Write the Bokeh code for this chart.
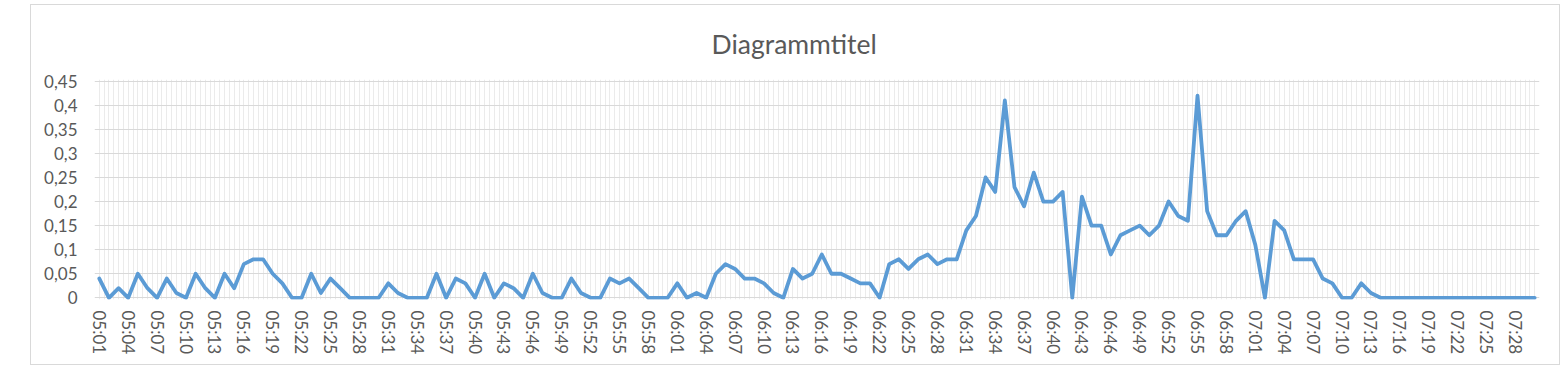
import numpy as np
from bokeh.plotting import figure
from bokeh.models import Range1d, FixedTicker
from bokeh.embed import file_html
from bokeh.resources import INLINE

# ---- data ----
start_h, start_m = 5, 1
n_points = 150
times = []
for k in range(n_points):
    t = start_h * 60 + start_m + k
    times.append(f"{t // 60:02d}:{t % 60:02d}")

values = [
    0.04, 0, 0.02, 0, 0.05, 0.02, 0, 0.04, 0.01, 0,        # 05:01-05:10
    0.05, 0.02, 0, 0.05, 0.02, 0.07, 0.08, 0.08, 0.05, 0.03,  # 05:11-05:20
    0, 0, 0.05, 0.01, 0.04, 0.02, 0, 0, 0, 0,              # 05:21-05:30
    0.03, 0.01, 0, 0, 0, 0.05, 0, 0.04, 0.03, 0,           # 05:31-05:40
    0.05, 0, 0.03, 0.02, 0, 0.05, 0.01, 0, 0, 0.04,        # 05:41-05:50
    0.01, 0, 0, 0.04, 0.03, 0.04, 0.02, 0, 0, 0,           # 05:51-06:00
    0.03, 0, 0.01, 0, 0.05, 0.07, 0.06, 0.04, 0.04, 0.03,  # 06:01-06:10
    0.01, 0, 0.06, 0.04, 0.05, 0.09, 0.05, 0.05, 0.04, 0.03,  # 06:11-06:20
    0.03, 0, 0.07, 0.08, 0.06, 0.08, 0.09, 0.07, 0.08, 0.08,  # 06:21-06:30
    0.14, 0.17, 0.25, 0.22, 0.41, 0.23, 0.19, 0.26, 0.20, 0.20,  # 06:31-06:40
    0.22, 0, 0.21, 0.15, 0.15, 0.09, 0.13, 0.14, 0.15, 0.13,  # 06:41-06:50
    0.15, 0.20, 0.17, 0.16, 0.42, 0.18, 0.13, 0.13, 0.16, 0.18,  # 06:51-07:00
    0.11, 0, 0.16, 0.14, 0.08, 0.08, 0.08, 0.04, 0.03, 0,  # 07:01-07:10
    0, 0.03, 0.01, 0, 0, 0, 0, 0, 0, 0,                    # 07:11-07:20
    0, 0, 0, 0, 0, 0, 0, 0, 0, 0,                          # 07:21-07:30
]

y_ticks = [0, 0.05, 0.1, 0.15, 0.2, 0.25, 0.3, 0.35, 0.4, 0.45]
y_labels = ["0", "0,05", "0,1", "0,15", "0,2", "0,25", "0,3", "0,35", "0,4", "0,45"]
label_step = 3
title_text = "Diagrammtitel"

# ---- figure ----
W, H = 1530, 361
FONT = "Lato"
TXT = "#595959"
GRID = "#d9d9d9"

x = list(range(len(values)))

p = figure(width=W, height=H, output_backend="svg", toolbar_location=None,
           x_range=Range1d(-0.5, len(values) - 0.5),
           y_range=Range1d(-0.0035, 0.4535),
           min_border_left=63, min_border_right=22,
           min_border_top=74, min_border_bottom=67,
           title=title_text)
p.styles = {"margin-left": "30px", "margin-top": "4px",
            "border": "1px solid #d9d9d9"}
p.outline_line_color = None
p.background_fill_color = "white"
p.border_fill_color = "white"

p.title.text_font = FONT
p.title.text_font_size = "26.5px"
p.title.text_font_style = "normal"
p.title.text_color = TXT
p.title.align = "left"
p.title.offset = 617
p.title.standoff = 40

# grids
p.ygrid.ticker = FixedTicker(ticks=y_ticks)
p.ygrid.grid_line_color = GRID
p.ygrid.grid_line_width = 1
p.xgrid.ticker = FixedTicker(ticks=list(np.arange(-0.5, len(values), 0.5)))
p.xgrid.grid_line_color = "#ebebeb"
p.xgrid.grid_line_width = 1

# y axis
p.yaxis.ticker = FixedTicker(ticks=y_ticks)
p.yaxis.major_label_overrides = {t: l for t, l in zip(y_ticks, y_labels)}
p.yaxis.axis_line_color = None
p.yaxis.major_tick_line_color = None
p.yaxis.minor_tick_line_color = None
p.yaxis.major_tick_out = 0
p.yaxis.major_label_standoff = 17
p.yaxis.major_label_text_font = FONT
p.yaxis.major_label_text_font_size = "17px"
p.yaxis.major_label_text_color = TXT

# x axis
x_ticks = list(range(0, len(values), label_step))
p.xaxis.ticker = FixedTicker(ticks=x_ticks)
p.xaxis.major_label_overrides = {i: times[i] for i in x_ticks}
p.xaxis.major_label_orientation = "vertical"
p.xaxis.axis_line_color = None
p.xaxis.major_tick_line_color = None
p.xaxis.minor_tick_line_color = None
p.xaxis.major_tick_out = 0
p.xaxis.major_label_standoff = 11
p.xaxis.major_label_text_font = FONT
p.xaxis.major_label_text_font_size = "17px"
p.xaxis.major_label_text_color = TXT

p.line(x=x, y=values, line_color="#5B9BD5", line_width=3.8, line_join="round",
       line_cap="round")

open("out.html", "w").write(file_html(p, INLINE))
